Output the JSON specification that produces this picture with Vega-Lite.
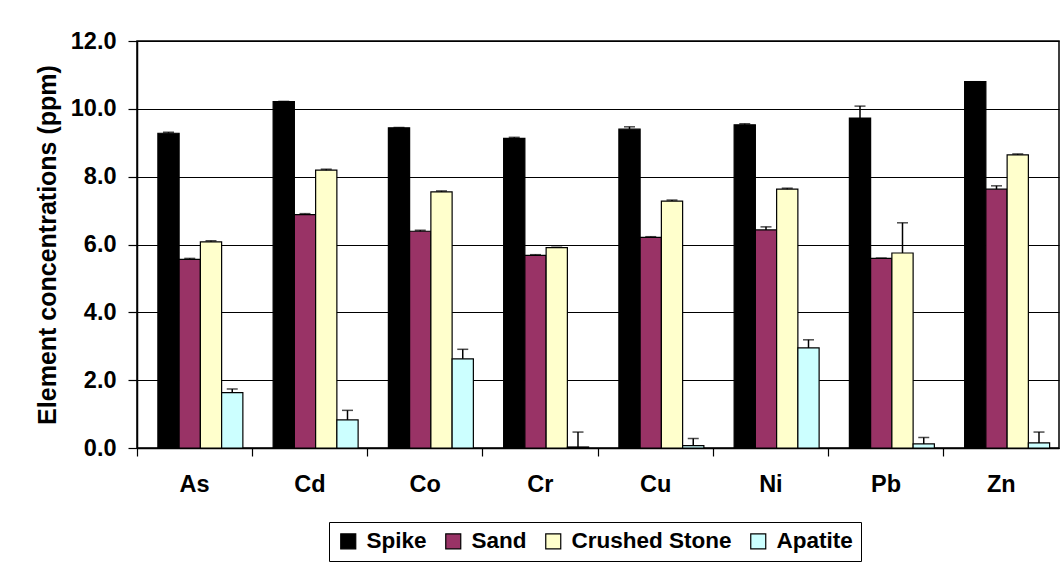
{
  "$schema": "https://vega.github.io/schema/vega-lite/v6.json",
  "width": 922,
  "height": 407,
  "autosize": {"type": "none"},
  "padding": {"left": 137, "top": 41, "right": 3, "bottom": 114},
  "background": "white",
  "config": {
    "font": "Liberation Sans",
    "view": {"stroke": "black", "strokeWidth": 1.5},
    "axis": {"labelFont": "Liberation Sans", "titleFont": "Liberation Sans", "labelColor": "black", "titleColor": "black", "domainColor": "black", "tickColor": "black", "gridColor": "black"}
  },
  "data": {"values": [
    {"element": "As", "sample": "Spike", "value": 9.28, "err": 0.03},
    {"element": "As", "sample": "Sand", "value": 5.56, "err": 0.03},
    {"element": "As", "sample": "Crushed Stone", "value": 6.08, "err": 0.03},
    {"element": "As", "sample": "Apatite", "value": 1.63, "err": 0.11},
    {"element": "Cd", "sample": "Spike", "value": 10.21, "err": 0.01},
    {"element": "Cd", "sample": "Sand", "value": 6.88, "err": 0.03},
    {"element": "Cd", "sample": "Crushed Stone", "value": 8.19, "err": 0.03},
    {"element": "Cd", "sample": "Apatite", "value": 0.83, "err": 0.28},
    {"element": "Co", "sample": "Spike", "value": 9.44, "err": 0.01},
    {"element": "Co", "sample": "Sand", "value": 6.39, "err": 0.03},
    {"element": "Co", "sample": "Crushed Stone", "value": 7.55, "err": 0.03},
    {"element": "Co", "sample": "Apatite", "value": 2.63, "err": 0.28},
    {"element": "Cr", "sample": "Spike", "value": 9.13, "err": 0.03},
    {"element": "Cr", "sample": "Sand", "value": 5.68, "err": 0.02},
    {"element": "Cr", "sample": "Crushed Stone", "value": 5.91, "err": 0.01},
    {"element": "Cr", "sample": "Apatite", "value": 0.03, "err": 0.44},
    {"element": "Cu", "sample": "Spike", "value": 9.40, "err": 0.07},
    {"element": "Cu", "sample": "Sand", "value": 6.21, "err": 0.02},
    {"element": "Cu", "sample": "Crushed Stone", "value": 7.28, "err": 0.03},
    {"element": "Cu", "sample": "Apatite", "value": 0.07, "err": 0.21},
    {"element": "Ni", "sample": "Spike", "value": 9.53, "err": 0.03},
    {"element": "Ni", "sample": "Sand", "value": 6.43, "err": 0.09},
    {"element": "Ni", "sample": "Crushed Stone", "value": 7.63, "err": 0.03},
    {"element": "Ni", "sample": "Apatite", "value": 2.95, "err": 0.24},
    {"element": "Pb", "sample": "Spike", "value": 9.73, "err": 0.35},
    {"element": "Pb", "sample": "Sand", "value": 5.59, "err": 0.01},
    {"element": "Pb", "sample": "Crushed Stone", "value": 5.75, "err": 0.89},
    {"element": "Pb", "sample": "Apatite", "value": 0.12, "err": 0.19},
    {"element": "Zn", "sample": "Spike", "value": 10.80, "err": 0.0},
    {"element": "Zn", "sample": "Sand", "value": 7.63, "err": 0.10},
    {"element": "Zn", "sample": "Crushed Stone", "value": 8.64, "err": 0.03},
    {"element": "Zn", "sample": "Apatite", "value": 0.15, "err": 0.32}
  ]},
  "transform": [{"calculate": "datum.value + datum.err", "as": "upper"}],
  "encoding": {
    "x": {
      "field": "element", "type": "nominal", "sort": null,
      "scale": {"paddingInner": 0, "paddingOuter": 0},
      "axis": {"title": null, "labelAngle": 0, "bandPosition": 0, "labelFontSize": 23.5, "labelFontWeight": "bold", "tickSize": 8, "labelPadding": 16, "domainWidth": 1.5, "tickWidth": 1.2, "grid": false}
    },
    "xOffset": {
      "field": "sample", "type": "nominal", "sort": ["Spike", "Sand", "Crushed Stone", "Apatite"],
      "scale": {"paddingInner": 0, "paddingOuter": 0.712, "align": 0.69}
    }
  },
  "layer": [
    {
      "mark": {"type": "bar", "stroke": "black", "strokeWidth": 1.2},
      "encoding": {
        "y": {
          "field": "value", "type": "quantitative",
          "scale": {"domain": [0, 12], "nice": false},
          "axis": {"title": "Element concentrations (ppm)", "titleFontSize": 25, "titleFontWeight": "bold", "titlePadding": 10, "values": [0, 2, 4, 6, 8, 10, 12], "format": ".1f", "labelFontSize": 23.5, "labelFontWeight": "bold", "tickSize": 9, "labelPadding": 12, "domainWidth": 1.5, "tickWidth": 1.2, "grid": true, "gridWidth": 1.2}
        },
        "fill": {
          "field": "sample", "type": "nominal",
          "scale": {"domain": ["Spike", "Sand", "Crushed Stone", "Apatite"], "range": ["#000000", "#993366", "#FFFFCC", "#CCFFFF"]},
          "legend": {"title": null, "orient": "none", "legendX": 192, "legendY": 481, "direction": "horizontal", "symbolType": "square", "symbolSize": 225, "symbolStrokeColor": "black", "symbolStrokeWidth": 1.2, "labelFontSize": 22.5, "labelFontWeight": "bold", "labelColor": "black", "labelLimit": 400, "strokeColor": "black", "padding": 8, "columnPadding": 15, "labelOffset": 7}
        }
      }
    },
    {
      "mark": {"type": "rule", "color": "black", "strokeWidth": 1.5},
      "encoding": {"y": {"field": "value", "type": "quantitative"}, "y2": {"field": "upper"}}
    },
    {
      "mark": {"type": "tick", "color": "black", "size": 11, "thickness": 1.5},
      "encoding": {"y": {"field": "upper", "type": "quantitative"}}
    }
  ]
}
